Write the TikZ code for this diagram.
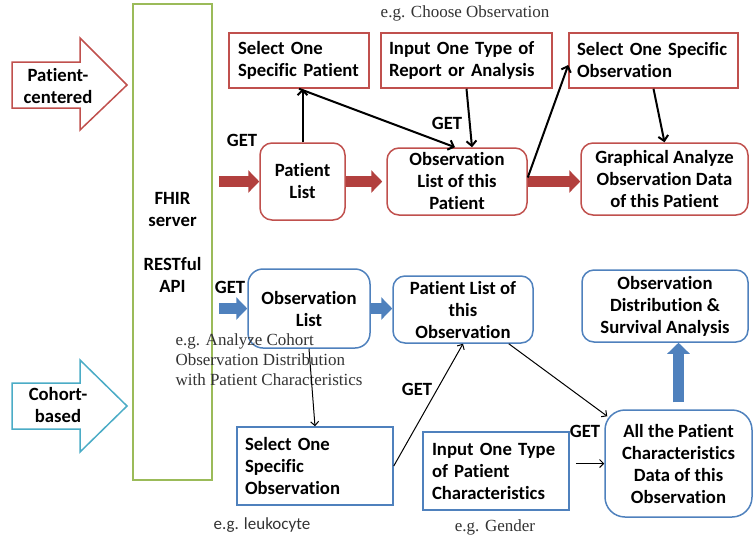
\documentclass[tikz,border=0pt]{standalone}
\usepackage{fontspec}
\setmainfont{Carlito}[Ligatures=NoCommon]
\newfontfamily\serifnote{Liberation Serif}
\usetikzlibrary{arrows.meta}

\definecolor{redfr}{RGB}{192,80,77}
\definecolor{redfat}{RGB}{178,64,62}
\definecolor{bluefr}{RGB}{79,129,189}
\definecolor{cyanfr}{RGB}{75,172,198}
\definecolor{greenfr}{RGB}{155,187,89}

\tikzset{
  boxfont/.style={font=\fontsize{18.7}{22}\selectfont\bfseries},
  redbox/.style={boxfont, draw=redfr, line width=1.5pt, fill=white, inner sep=0pt},
  bluebox/.style={boxfont, draw=bluefr, line width=1.5pt, fill=white, inner sep=0pt},
  getlabel/.style={boxfont},
  eglabel/.style={font=\serifnote\fontsize{17}{20}\selectfont, text=black!80, align=left},
  thinarrow/.style={-{Straight Barb[length=5pt,width=10pt]}, line width=2pt},
  finearrow/.style={-{Straight Barb[length=4pt,width=8pt]}, line width=1pt},
  fatarrow/.style={line width=11pt, -{Triangle[length=11pt,width=22pt]}}
}

\begin{document}
\begin{tikzpicture}[x=1pt,y=-1pt]
\useasboundingbox (0,0) rectangle (755,542);

% entry arrows
\draw[redfr, line width=1.5pt, fill=white] (12,62) -- (80,62) -- (80,38) -- (127,85) -- (80,130) -- (80,108) -- (12,108) -- cycle;
\node[boxfont, align=center] (pc) at (58,86) {Patient-\\centered};
\draw[cyanfr, line width=1.5pt, fill=white] (12,383) -- (80,383) -- (80,360) -- (127,406) -- (80,452) -- (80,429) -- (12,429) -- cycle;
\node[boxfont, align=center] (cb) at (58,405) {Cohort-\\based};

% server
\node[boxfont, draw=greenfr, line width=1.5pt, minimum width=79pt, minimum height=476pt, align=center] (fhir) at (172.5,242) {FHIR\\server\\[22pt]RESTful\\API};

% patient-centered row
\node[redbox, minimum height=55pt, text width=122pt, inner xsep=9pt, align=left] (sp) at (299,60.5) {Select One\\Specific Patient};
\node[redbox, minimum height=55pt, text width=155pt, inner xsep=8pt, align=left] (ir) at (466.5,60.5) {Input One Type of\\Report or Analysis};
\node[redbox, minimum height=55pt, text width=153pt, inner xsep=8pt, align=left] (so) at (653.5,60.5) {Select One Specific\\Observation};
\node[redbox, rounded corners=12pt, minimum width=85pt, minimum height=77pt, align=center] (pl) at (302.5,181.5) {Patient\\List};
\node[redbox, rounded corners=12pt, minimum width=140pt, minimum height=67pt, align=center] (ol) at (457,181.5) {Observation\\List of this\\Patient};
\node[redbox, rounded corners=12pt, minimum width=167pt, minimum height=72pt, align=center] (gr) at (664.5,179) {Graphical Analyze\\Observation Data\\of this Patient};

\node[eglabel] (eg1) at (465,13) {e.g. Choose Observation};
\node[getlabel] (get1) at (242,140) {GET};
\node[getlabel] (get2) at (447,123) {GET};

\draw[fatarrow, redfat] ([xshift=6pt]fhir.east |- pl.west) -- (pl.west); % server to patient list
\draw[fatarrow, redfat] (pl.east) -- ([xshift=-4pt]ol.west);
\draw[fatarrow, redfat] (ol.east) -- (ol.east -| gr.west);
\draw[thinarrow] (pl.north) -- (pl.north |- sp.south);
\draw[thinarrow] (sp.south) -- ([xshift=-2pt]ol.north);
\draw[thinarrow] (ir.south) -- ([xshift=15pt]ol.north);
\draw[thinarrow] ([yshift=4pt]ol.east) -- ([yshift=-4.5pt]so.west);
\draw[thinarrow] (so.south) -- (gr.north);

% cohort-based row
\node[bluebox, rounded corners=15pt, minimum width=122pt, minimum height=79pt, align=center] (ob) at (309,308.5) {Observation\\List};
\node[bluebox, rounded corners=12pt, minimum width=140pt, minimum height=67pt, align=center] (plo) at (463,309.5) {Patient List of\\this\\Observation};
\node[bluebox, rounded corners=12pt, minimum width=166pt, minimum height=72pt, align=center] (ods) at (665,306) {Observation\\Distribution \&\\Survival Analysis};
\node[bluebox, rounded corners=20pt, minimum width=147pt, minimum height=107pt, align=center] (ap) at (678.5,463.5) {All the Patient\\Characteristics\\Data of this\\Observation};
\node[bluebox, minimum height=78pt, text width=140pt, inner xsep=8pt, align=left] (sso) at (315,466) {Select One\\Specific\\Observation};
\node[bluebox, minimum height=78pt, text width=128pt, inner xsep=9pt, align=left] (ipc) at (496,471) {Input One Type\\of Patient\\Characteristics};

\node[eglabel, anchor=west] (eg2) at (172,360) {e.g. Analyze Cohort\\Observation Distribution\\with Patient Characteristics};
\node[font=\fontsize{17}{20}\selectfont, text=black!80] (eg3) at (262,525) {e.g. leukocyte};
\node[eglabel] (eg4) at (495,527) {e.g. Gender};
\node[getlabel] (get3) at (230,287) {GET};
\node[getlabel] (get4) at (417,389) {GET};
\node[getlabel] (get5) at (585,431) {GET};

\draw[fatarrow, bluefr] ([xshift=6pt]fhir.east |- ob.west) -- (ob.west); % server to observation list
\draw[fatarrow, bluefr] (ob.east) -- (ob.east -| plo.west);
\draw[fatarrow, bluefr] ([yshift=7pt]ap.north) -- (ap.north |- ods.south);
\draw[finearrow] (ob.south) -- (sso.north);
\draw[finearrow] (sso.east) -- (plo.south);
\draw[finearrow] ([xshift=-25pt]plo.south east) -- ([xshift=3pt,yshift=-7pt]ap.north west);
\draw[finearrow] ([xshift=6pt]ipc.east |- ap.west) -- (ap.west);
\end{tikzpicture}
\end{document}
